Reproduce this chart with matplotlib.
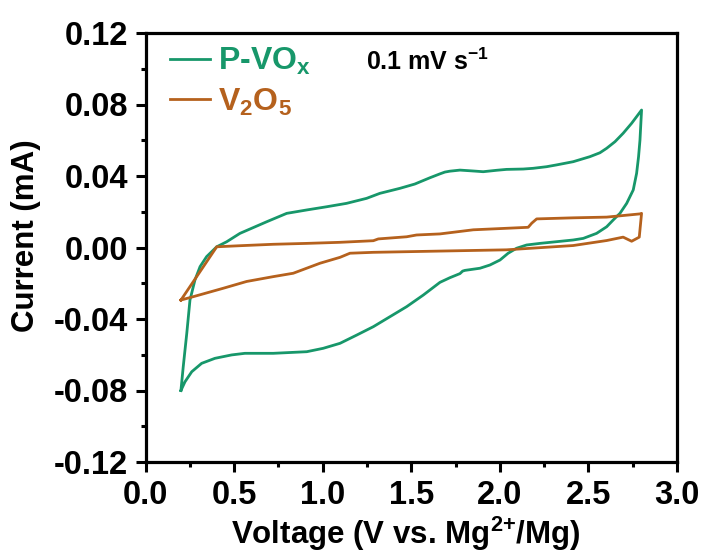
import matplotlib
matplotlib.use("Agg")
import matplotlib.pyplot as plt
from matplotlib.ticker import MultipleLocator, FormatStrFormatter

plt.rcParams['font.family'] = ['Liberation Sans', 'DejaVu Sans']
plt.rcParams['font.weight'] = 'bold'
plt.rcParams['axes.unicode_minus'] = False
plt.rcParams['mathtext.fontset'] = 'custom'
plt.rcParams['mathtext.rm'] = 'Liberation Sans:bold'
plt.rcParams['mathtext.it'] = 'Liberation Sans:bold'
plt.rcParams['mathtext.bf'] = 'Liberation Sans:bold'

# P-VOx CV loop (V, mA): anodic sweep 0.2 -> 2.8 V, then cathodic back
pvox_v = [0.200, 0.213, 0.223, 0.233, 0.242, 0.251, 0.279, 0.308, 0.345, 0.402, 0.458, 0.533,
          0.684, 0.797, 0.910, 1.023, 1.135, 1.248, 1.323, 1.436, 1.520, 1.605, 1.662, 1.690, 1.718, 1.775,
          1.850, 1.906, 1.982, 2.038, 2.132, 2.188, 2.264, 2.320, 2.414, 2.508, 2.565, 2.603,
          2.650, 2.696, 2.744, 2.772, 2.800,
          2.796, 2.791, 2.783, 2.772, 2.753, 2.716, 2.678, 2.640, 2.603, 2.546, 2.471, 2.414,
          2.226, 2.151, 2.095, 2.047, 2.001, 1.944, 1.888, 1.803, 1.790, 1.775, 1.718, 1.662,
          1.568, 1.474, 1.380, 1.286, 1.192, 1.098, 1.003, 0.910, 0.721, 0.561, 0.486, 0.392,
          0.317, 0.261, 0.223, 0.200]
pvox_i = [-0.0800, -0.0667, -0.0573, -0.0480, -0.0387, -0.0294, -0.0182, -0.0107, -0.0051, 0.0004, 0.0032, 0.0079,
          0.0144, 0.0191, 0.0210, 0.0228, 0.0247, 0.0275, 0.0303, 0.0331, 0.0355, 0.0390, 0.0412, 0.0422, 0.0427, 0.0433,
          0.0428, 0.0424, 0.0432, 0.0437, 0.0439, 0.0443, 0.0452, 0.0462, 0.0480, 0.0508, 0.0530, 0.0555,
          0.0592, 0.0639, 0.0695, 0.0732, 0.0769,
          0.0695, 0.0601, 0.0508, 0.0415, 0.0322, 0.0247, 0.0191, 0.0154, 0.0116, 0.0079, 0.0051, 0.0042,
          0.0023, 0.0014, -0.0004, -0.0032, -0.0070, -0.0098, -0.0116, -0.0128, -0.0132, -0.0146, -0.0169, -0.0195,
          -0.0266, -0.0331, -0.0387, -0.0443, -0.0490, -0.0536, -0.0564, -0.0583, -0.0592, -0.0592, -0.0601, -0.0620,
          -0.0648, -0.0695, -0.0751, -0.0800]

# V2O5 CV loop (V, mA)
v2o5_v = [0.200, 0.402, 0.533, 0.721, 0.910, 1.098, 1.286, 1.314, 1.474, 1.530, 1.662, 1.850,
          2.160, 2.180, 2.208, 2.414, 2.603, 2.791, 2.800,
          2.787, 2.744, 2.696, 2.603, 2.414, 2.038, 1.662, 1.286, 1.154, 1.098, 0.985, 0.834,
          0.721, 0.571, 0.439, 0.270, 0.200]
v2o5_i = [-0.0294, 0.0004, 0.0010, 0.0018, 0.0023, 0.0029, 0.0038, 0.0048, 0.0060, 0.0070, 0.0076, 0.0099,
          0.0113, 0.0136, 0.0160, 0.0166, 0.0170, 0.0188, 0.0191,
          0.0058, 0.0035, 0.0058, 0.0039, 0.0011, -0.0013, -0.0020, -0.0027, -0.0032, -0.0055, -0.0088, -0.0144,
          -0.0163, -0.0190, -0.0228, -0.0275, -0.0294]

green = '#17976A'
orange = '#B5611D'

fig = plt.figure(figsize=(7.07, 5.54), dpi=100)
ax = fig.add_axes([145.5/707, 1-462/554, (677-145.5)/707, (462-33)/554])

ax.plot(pvox_v, pvox_i, color=green, lw=2.0, label=r'P-VO$_\mathregular{x}$', solid_joinstyle='round')
ax.plot(v2o5_v, v2o5_i, color=orange, lw=2.0, label=r'V$_\mathregular{2}$O$_\mathregular{5}$', solid_joinstyle='round')

ax.set_xlim(0, 3.0)
ax.set_ylim(-0.12, 0.12)
ax.xaxis.set_major_locator(MultipleLocator(0.5))
ax.xaxis.set_minor_locator(MultipleLocator(0.25))
ax.yaxis.set_major_locator(MultipleLocator(0.04))
ax.yaxis.set_minor_locator(MultipleLocator(0.02))
ax.xaxis.set_major_formatter(FormatStrFormatter('%.1f'))
ax.yaxis.set_major_formatter(FormatStrFormatter('%.2f'))
for s in ax.spines.values():
    s.set_linewidth(2.3)
ax.tick_params(which='major', direction='out', length=7, width=2.2, labelsize=23.5)
ax.tick_params(which='minor', direction='out', length=3.5, width=2.2)
ax.tick_params(axis='x', which='major', pad=6)
ax.tick_params(axis='y', which='major', pad=5.5)
ax.tick_params(top=False, right=False)

ax.set_xlabel(r'Voltage (V vs. Mg$^\mathregular{2{+}}$/Mg)', fontsize=22.5, fontweight='bold')
ax.set_ylabel('Current (mA)', fontsize=22.5, fontweight='bold')
ax.xaxis.set_label_coords(0.49, -0.122)
ax.yaxis.set_label_coords(-0.197, 0.527)

leg = ax.legend(loc='upper left', bbox_to_anchor=(0.035, 0.985), frameon=False, fontsize=23,
                handlelength=1.25, handletextpad=0.25, labelspacing=0.3, borderpad=0.2,
                borderaxespad=0, labelcolor='linecolor')
for t in leg.get_texts():
    t.set_fontweight('bold')

ax.text(0.415, 0.914, r'0.1 mV s$^\mathregular{{-}1}$', transform=ax.transAxes, fontsize=18,
        fontweight='bold', ha='left', va='baseline')

fig.savefig('out.png', dpi=100)
